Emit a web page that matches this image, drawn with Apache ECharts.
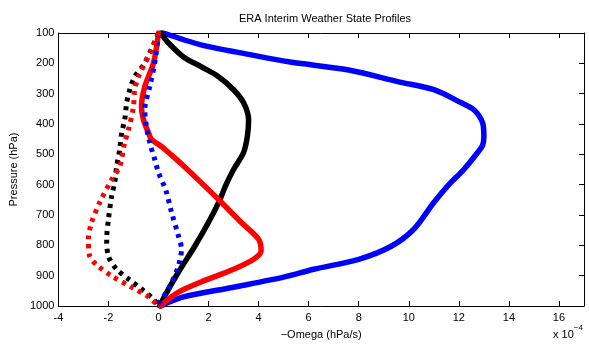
<!DOCTYPE html>
<html>
<head>
<meta charset="utf-8">
<script src="https://cdn.jsdelivr.net/npm/echarts@6/dist/echarts.min.js"></script>
<style>
  html, body { margin: 0; padding: 0; background: #fff; }
  #chart { width: 589px; height: 345px; }
</style>
</head>
<body>
<div id="chart"></div>
<script>
// [omega (x1e-4 hPa/s), pressure (hPa)]
let blueSolid = [[0.2,100],[1.7,139],[3.7,172],[5.2,195],[7.6,222],[9.6,261],[11.0,287],[12.1,330],[12.6,353],[12.95,396],[13.0,440],[12.95,470],[12.75,494],[12.2,550],[11.6,600],[11.0,659],[10.2,747],[9.3,803],[8.0,846],[6.2,879],[5.0,905],[3.0,938],[1.0,970],[0.25,993],[0.1,1000]];
let blackSolid = [[0.1,100],[0.2,113],[0.4,133],[1.0,179],[1.7,211],[2.4,244],[3.0,287],[3.4,330],[3.6,386],[3.55,441],[3.4,494],[3.0,550],[2.7,600],[2.4,659],[2.0,724],[1.45,803],[0.8,888],[0.25,967],[0.05,1000]];
let redSolid = [[0,100],[-0.2,199],[-0.55,277],[-0.68,343],[-0.6,386],[-0.4,429],[-0.28,451],[0.12,474],[0.4,494],[0.9,530],[1.45,573],[2.4,649],[3.3,724],[4.0,780],[4.1,819],[3.8,846],[3.0,879],[1.7,921],[0.8,954],[0.25,987],[0.1,1000]];
let blueDash = [[0,100],[-0.15,199],[-0.35,277],[-0.55,353],[-0.48,409],[-0.35,461],[-0.15,517],[0,560],[0.3,620],[0.52,691],[0.8,770],[0.92,813],[0.85,850],[0.75,879],[0.4,944],[0.05,987],[0,1000]];
let blackDash = [[0,100],[-0.55,199],[-0.95,244],[-1.15,287],[-1.27,330],[-1.35,386],[-1.47,429],[-1.55,484],[-1.67,540],[-1.75,593],[-1.87,637],[-2.0,714],[-2.07,780],[-2.0,836],[-1.67,879],[-1.2,911],[-0.68,944],[-0.2,977],[0,1000]];
let redDash = [[0,100],[-0.28,156],[-0.8,244],[-0.95,287],[-1.0,343],[-1.2,419],[-1.35,461],[-1.55,540],[-1.87,583],[-2.35,659],[-2.67,724],[-2.8,780],[-2.75,836],[-2.4,869],[-1.87,901],[-1.08,938],[-0.4,970],[0,1000]];

let font = 'Liberation Sans, Arial, sans-serif';
let myChart = echarts.init(document.getElementById('chart'));

function line(data, color, dashed){
    return {
        type:'line',
        data:data,
        showSymbol:false,
        smooth:0.3,
        silent:true,
        lineStyle:{
            color:color,
            width: dashed ? 5 : 5.5,
            type: dashed ? [4,5] : 'solid',
            cap: dashed ? 'butt' : 'round',
            join:'round'
        }
    };
}

let axisLine = {show:true, onZero:false, lineStyle:{color:'#000', width:1}};
let tickIn = {show:true, inside:true, length:5, lineStyle:{color:'#000'}};

myChart.setOption({
    animation:false,
    backgroundColor:'#fff',
    title:{
        text:'ERA Interim Weather State Profiles',
        left:320, top:8, textAlign:'center',
        textStyle:{fontFamily:font, fontSize:11, fontWeight:'normal', color:'#000'}
    },
    grid:{left:57, right:5, top:33, bottom:38},
    xAxis:[{
        type:'value', min:-4, max:17, interval:2,
        axisLine:axisLine, axisTick:tickIn, splitLine:{show:false},
        axisLabel:{
            fontFamily:font, fontSize:11, color:'#000', margin:6,
            formatter:v => (v % 2 === 0 ? String(v) : '')
        },
        name:'\u2212Omega (hPa/s)', nameLocation:'middle', nameGap:23,
        nameTextStyle:{fontFamily:font, fontSize:11, color:'#000'}
    },{
        type:'value', position:'top', min:-4, max:17, interval:2,
        axisLine:axisLine, axisTick:tickIn, axisLabel:{show:false}, splitLine:{show:false}
    }],
    yAxis:[{
        type:'value', inverse:true, min:100, max:1000, interval:100,
        axisLine:axisLine, axisTick:{show:false}, splitLine:{show:false},
        axisLabel:{fontFamily:font, fontSize:11, color:'#000', margin:4, formatter:v => String(v)},
        name:'Pressure (hPa)', nameLocation:'middle', nameGap:36,
        nameTextStyle:{fontFamily:font, fontSize:11, color:'#000'}
    },{
        type:'value', position:'right', inverse:true, min:100, max:1000, interval:100,
        axisLine:axisLine, axisTick:tickIn, axisLabel:{show:false}, splitLine:{show:false}
    }],
    graphic:[{
        type:'text', left:553, top:324,
        style:{
            text:'{a|x 10}{b|\u22124}',
            rich:{
                a:{fontFamily:font, fontSize:11, fill:'#000', verticalAlign:'bottom'},
                b:{fontFamily:font, fontSize:8, fill:'#000', verticalAlign:'top', padding:[0,0,8,0]}
            }
        }
    }],
    series:[
        line(blueSolid,'#0000ff',false),
        line(blackSolid,'#000000',false),
        line(redSolid,'#ff0000',false),
        line(blueDash,'#0000ff',true),
        line(blackDash,'#000000',true),
        line(redDash,'#ff0000',true)
    ]
});
</script>
</body>
</html>
